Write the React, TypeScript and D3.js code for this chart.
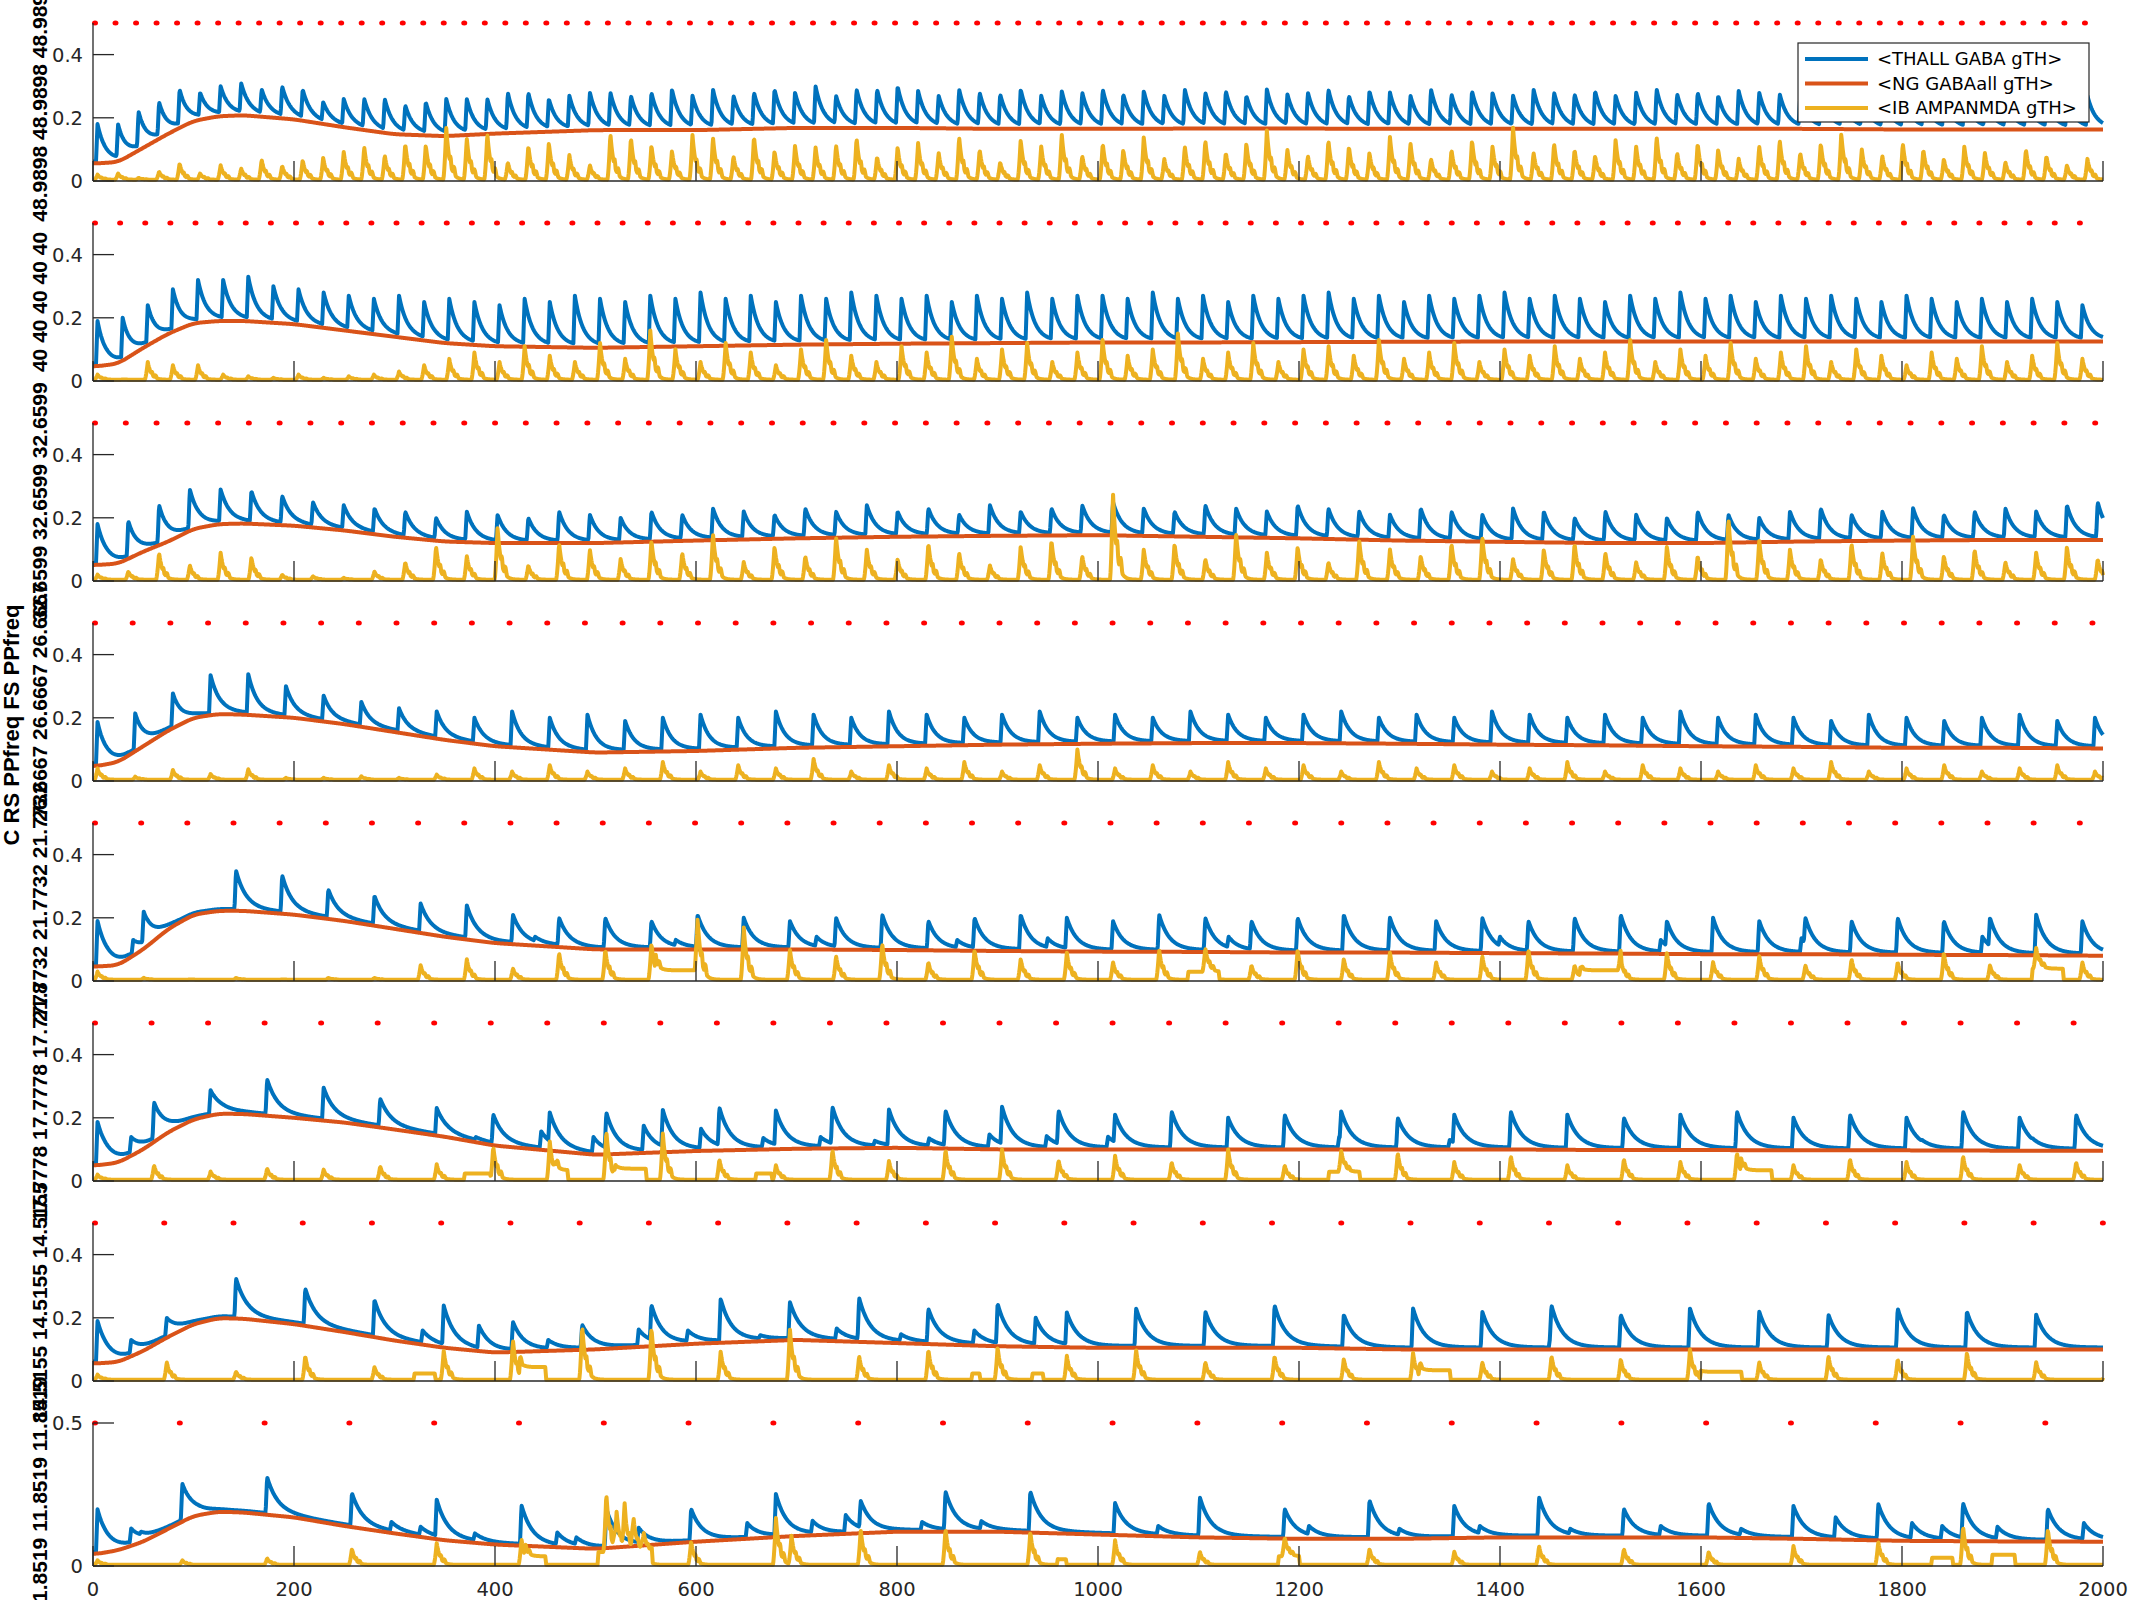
import React, { useMemo } from 'react';
import * as d3 from 'd3';

// drive frequencies, one per panel (Hz)
const FREQS = [48.9898, 40, 32.6599, 26.6667, 21.7732, 17.7778, 14.5155, 11.8519];
const YLABELS = ['48.9898', '40', '32.6599', '26.6667', '21.7732', '17.7778', '14.5155', '11.8519'];
const YLABEL_REPEATS = [3, 5, 3, 3, 3, 3, 3, 3];
const SIDE_LABEL = 'C RS PPfreq FS PPfreq';
const LEGEND = ['<THALL GABA gTH>', '<NG GABAall gTH>', '<IB AMPANMDA gTH>'];
const X_TICKS = [0, 200, 400, 600, 800, 1000, 1200, 1400, 1600, 1800, 2000];
// decay time of the blue conductance per panel (ms)
const BLUE_TAU = [8, 8, 9, 9, 10, 11, 11, 11];

// NG GABAall (orange) read at these times
const ORANGE_T = [0, 25, 50, 75, 100, 125, 150, 200, 250, 300, 350, 400, 500, 600, 700, 800, 900, 1000, 1100, 1200, 1300, 1400, 1500, 1600, 1700, 1800, 1900, 2000];
const ORANGE_1 = [0.055, 0.06, 0.105, 0.15, 0.19, 0.205, 0.208, 0.195, 0.17, 0.148, 0.142, 0.15, 0.161, 0.161, 0.168, 0.168, 0.165, 0.165, 0.166, 0.166, 0.165, 0.165, 0.165, 0.165, 0.165, 0.163, 0.163, 0.163];
const ORANGE_2 = [0.045, 0.055, 0.105, 0.15, 0.183, 0.19, 0.19, 0.18, 0.16, 0.14, 0.12, 0.11, 0.105, 0.11, 0.115, 0.118, 0.12, 0.122, 0.122, 0.123, 0.124, 0.125, 0.125, 0.125, 0.125, 0.125, 0.125, 0.125];
const ORANGE_3 = [0.05, 0.055, 0.093, 0.125, 0.165, 0.18, 0.182, 0.175, 0.16, 0.14, 0.125, 0.12, 0.12, 0.128, 0.135, 0.14, 0.143, 0.145, 0.14, 0.135, 0.128, 0.124, 0.12, 0.12, 0.125, 0.128, 0.13, 0.13];
const ORANGE_4 = [0.045, 0.06, 0.11, 0.16, 0.2, 0.212, 0.21, 0.2, 0.18, 0.155, 0.13, 0.11, 0.09, 0.095, 0.105, 0.11, 0.115, 0.118, 0.12, 0.12, 0.118, 0.115, 0.113, 0.11, 0.108, 0.105, 0.105, 0.103];
const ORANGE_5 = [0.045, 0.05, 0.1, 0.165, 0.21, 0.222, 0.222, 0.21, 0.19, 0.165, 0.14, 0.12, 0.1, 0.1, 0.1, 0.098, 0.095, 0.093, 0.092, 0.09, 0.09, 0.088, 0.087, 0.085, 0.085, 0.083, 0.082, 0.08];
const ORANGE_6 = [0.048, 0.058, 0.1, 0.155, 0.195, 0.213, 0.212, 0.2, 0.185, 0.163, 0.14, 0.112, 0.083, 0.095, 0.102, 0.105, 0.1, 0.1, 0.1, 0.1, 0.1, 0.1, 0.098, 0.098, 0.097, 0.097, 0.096, 0.096];
const ORANGE_7 = [0.055, 0.06, 0.095, 0.14, 0.18, 0.199, 0.197, 0.18, 0.155, 0.128, 0.105, 0.09, 0.1, 0.118, 0.13, 0.12, 0.11, 0.105, 0.105, 0.105, 0.1, 0.1, 0.1, 0.1, 0.1, 0.1, 0.1, 0.1];
const ORANGE_8 = [0.04, 0.055, 0.085, 0.13, 0.175, 0.19, 0.187, 0.17, 0.14, 0.114, 0.09, 0.075, 0.06, 0.085, 0.105, 0.12, 0.12, 0.11, 0.1, 0.095, 0.095, 0.1, 0.1, 0.1, 0.095, 0.088, 0.086, 0.085];

// THALL GABA (blue) peak after each drive pulse
const BLUE_1 = [0.18, 0.18, 0.22, 0.25, 0.29, 0.28, 0.30, 0.31, 0.29, 0.30, 0.29, 0.25, 0.26, 0.26, 0.26,
  0.24, 0.25, 0.26, 0.26, 0.26, 0.28, 0.28, 0.26, 0.27, 0.28, 0.28, 0.27, 0.28, 0.29, 0.27, 0.29, 0.27, 0.28, 0.29, 0.28, 0.30, 0.27, 0.29, 0.29, 0.30,
  0.285, 0.27, 0.29, 0.28, 0.275, 0.29, 0.27, 0.285, 0.28, 0.29, 0.275, 0.285, 0.27, 0.29, 0.28, 0.285, 0.27, 0.29, 0.275, 0.28,
  0.29, 0.27, 0.285, 0.28, 0.27, 0.29, 0.275, 0.285, 0.28, 0.27, 0.29, 0.28, 0.275, 0.285, 0.27, 0.28, 0.29, 0.275, 0.28, 0.27,
  0.285, 0.28, 0.275, 0.27, 0.285, 0.28, 0.27, 0.275, 0.28, 0.27, 0.265, 0.275, 0.27, 0.265, 0.27, 0.26, 0.265, 0.27];
const BLUE_2 = [0.19, 0.2, 0.24, 0.29, 0.32, 0.32, 0.33, 0.3, 0.29, 0.28,
  0.27, 0.26, 0.27, 0.25, 0.26, 0.25, 0.24, 0.26, 0.25, 0.27, 0.26, 0.25, 0.27, 0.26, 0.28, 0.26, 0.27, 0.25, 0.27, 0.26,
  0.28, 0.27, 0.26, 0.27, 0.25, 0.27, 0.26, 0.28, 0.26, 0.27, 0.27, 0.26, 0.28, 0.26, 0.27, 0.25, 0.27, 0.26, 0.27, 0.28,
  0.26, 0.27, 0.25, 0.27, 0.26, 0.27, 0.28, 0.26, 0.27, 0.26, 0.25, 0.27, 0.26, 0.28, 0.26, 0.27, 0.25, 0.27, 0.26, 0.27,
  0.26, 0.25, 0.27, 0.26, 0.25, 0.26, 0.25, 0.26, 0.25, 0.24];
const BLUE_3 = [0.18, 0.19, 0.24, 0.29, 0.29, 0.285, 0.27, 0.25, 0.24, 0.23,
  0.22, 0.2, 0.22, 0.21, 0.2, 0.22, 0.21, 0.2, 0.22, 0.21, 0.23, 0.22, 0.21, 0.23, 0.22, 0.24, 0.22, 0.23, 0.21, 0.24,
  0.22, 0.23, 0.24, 0.25, 0.23, 0.22, 0.24, 0.23, 0.22, 0.24, 0.23, 0.22, 0.21, 0.23, 0.22, 0.21, 0.23, 0.22, 0.2, 0.22,
  0.21, 0.2, 0.22, 0.21, 0.2, 0.22, 0.23, 0.21, 0.22, 0.23, 0.21, 0.22, 0.23, 0.22, 0.24, 0.25];
const BLUE_4 = [0.187, 0.214, 0.277, 0.335, 0.338, 0.3, 0.27, 0.25, 0.23, 0.22,
  0.2, 0.22, 0.2, 0.21, 0.19, 0.2, 0.21, 0.2, 0.22, 0.21, 0.2, 0.22, 0.21, 0.2, 0.21, 0.22, 0.2, 0.21, 0.2, 0.22,
  0.21, 0.2, 0.21, 0.22, 0.2, 0.21, 0.2, 0.22, 0.21, 0.2, 0.21, 0.2, 0.22, 0.2, 0.21, 0.2, 0.19, 0.21, 0.2, 0.19,
  0.2, 0.21, 0.19, 0.2];
const BLUE_5 = [0.19, 0.22, 0.21, 0.35, 0.335, 0.29, 0.27, 0.245, 0.24, 0.21,
  0.2, 0.2, 0.19, 0.21, 0.2, 0.19, 0.2, 0.21, 0.19, 0.2, 0.21, 0.2, 0.19, 0.21, 0.2, 0.19, 0.2, 0.21, 0.2, 0.19,
  0.2, 0.19, 0.2, 0.21, 0.19, 0.2, 0.19, 0.2, 0.19, 0.2, 0.19, 0.2, 0.21, 0.19];
const BLUE_6 = [0.187, 0.249, 0.287, 0.322, 0.295, 0.261, 0.231, 0.211, 0.217, 0.217, 0.225, 0.233, 0.223, 0.235, 0.226, 0.223, 0.235, 0.223,
  0.21, 0.22, 0.2, 0.21, 0.22, 0.2, 0.21, 0.22, 0.21, 0.2, 0.21, 0.22, 0.2, 0.21, 0.2, 0.22, 0.2, 0.21];
const BLUE_7 = [0.19, 0.2, 0.325, 0.293, 0.257, 0.239, 0.187, 0.178, 0.241, 0.26, 0.25, 0.263, 0.229, 0.245, 0.217,
  0.23, 0.22, 0.24, 0.21, 0.23, 0.22, 0.24, 0.21, 0.23, 0.22, 0.21, 0.23, 0.22, 0.21, 0.22];
const BLUE_8 = [0.198, 0.288, 0.311, 0.255, 0.232, 0.212, 0.2, 0.2, 0.252, 0.228, 0.261, 0.261,
  0.22, 0.24, 0.2, 0.23, 0.21, 0.24, 0.2, 0.22, 0.21, 0.217, 0.22, 0.2];

// smaller blue bumps between pulses: times (ms) and peaks
const EXTRA_T_5 = [40, 440, 580, 720, 860, 950, 1130, 1290, 1400, 1560, 1700, 1880];
const EXTRA_V_5 = [0.13, 0.14, 0.13, 0.14, 0.13, 0.135, 0.14, 0.13, 0.14, 0.13, 0.135, 0.14];
const EXTRA_T_6 = [38, 330, 381, 446, 498, 548, 605, 667, 724, 778, 832, 892, 949, 1010, 1130, 1240, 1350, 1470, 1590, 1700, 1820, 1930];
const EXTRA_V_6 = [0.139, 0.145, 0.139, 0.157, 0.139, 0.175, 0.165, 0.136, 0.139, 0.127, 0.135, 0.147, 0.142, 0.14, 0.135, 0.14, 0.13, 0.14, 0.135, 0.14, 0.13, 0.135];
const EXTRA_T_7 = [38, 198, 328, 384, 453, 543, 592, 664, 740, 804, 877, 938, 1040, 1180, 1320, 1450, 1600, 1730, 1870];
const EXTRA_V_7 = [0.13, 0.18, 0.16, 0.175, 0.13, 0.163, 0.16, 0.145, 0.166, 0.148, 0.16, 0.2, 0.15, 0.14, 0.15, 0.14, 0.15, 0.14, 0.14];
const EXTRA_T_8 = [38, 48, 297, 326, 380, 462, 481, 543, 651, 716, 749, 825, 884, 1060, 1120, 1210, 1300, 1380, 1470, 1560, 1640, 1734, 1810, 1840, 1895, 1981];
const EXTRA_V_8 = [0.131, 0.12, 0.154, 0.137, 0.114, 0.117, 0.1, 0.134, 0.15, 0.158, 0.178, 0.154, 0.157, 0.14, 0.13, 0.14, 0.13, 0.14, 0.13, 0.14, 0.13, 0.17, 0.15, 0.14, 0.137, 0.15];

// IB AMPANMDA (yellow) burst height after each drive pulse
const YELLOW_1 = [0.02, 0.024, 0.01, 0.03, 0.056, 0.024, 0.05, 0.04, 0.068, 0.048, 0.066, 0.074, 0.093, 0.108, 0.082,
  0.119, 0.114, 0.168, 0.135, 0.15, 0.059, 0.112, 0.121, 0.082, 0.05, 0.15, 0.138, 0.114, 0.095, 0.147, 0.138, 0.079, 0.142, 0.095, 0.112, 0.108, 0.114, 0.137, 0.077, 0.108,
  0.12, 0.09, 0.14, 0.1, 0.06, 0.13, 0.11, 0.15, 0.08, 0.12, 0.1, 0.14, 0.07, 0.11, 0.13, 0.09, 0.12, 0.16, 0.1, 0.08,
  0.13, 0.11, 0.09, 0.14, 0.12, 0.07, 0.1, 0.13, 0.11, 0.17, 0.09, 0.12, 0.1, 0.08, 0.13, 0.11, 0.14, 0.09, 0.12, 0.1,
  0.07, 0.11, 0.13, 0.09, 0.12, 0.15, 0.1, 0.08, 0.12, 0.1, 0.07, 0.11, 0.09, 0.06, 0.1, 0.08, 0.05, 0.07];
const YELLOW_2 = [0.02, 0.005, 0.06, 0.05, 0.05, 0.02, 0.015, 0.01, 0.02, 0.01,
  0.015, 0.02, 0.03, 0.05, 0.07, 0.09, 0.06, 0.11, 0.08, 0.06, 0.12, 0.07, 0.16, 0.1, 0.06, 0.12, 0.09, 0.05, 0.1, 0.13,
  0.08, 0.06, 0.11, 0.09, 0.14, 0.07, 0.1, 0.12, 0.06, 0.09, 0.13, 0.08, 0.1, 0.15, 0.07, 0.09, 0.12, 0.06, 0.1, 0.11,
  0.08, 0.13, 0.07, 0.09, 0.12, 0.06, 0.1, 0.08, 0.11, 0.07, 0.09, 0.13, 0.06, 0.1, 0.08, 0.12, 0.07, 0.09, 0.11, 0.06,
  0.1, 0.08, 0.05, 0.09, 0.07, 0.11, 0.06, 0.08, 0.12, 0.07];
const YELLOW_3 = [0.02, 0.03, 0.09, 0.05, 0.09, 0.075, 0.02, 0.015, 0.01, 0.03,
  0.06, 0.11, 0.08, 0.17, 0.05, 0.12, 0.1, 0.07, 0.13, 0.09, 0.15, 0.06, 0.11, 0.08, 0.14, 0.1, 0.07, 0.12, 0.09, 0.05,
  0.11, 0.13, 0.08, 0.28, 0.1, 0.12, 0.07, 0.15, 0.09, 0.11, 0.06, 0.13, 0.1, 0.08, 0.12, 0.14, 0.07, 0.1, 0.12, 0.09,
  0.06, 0.11, 0.08, 0.2, 0.13, 0.1, 0.07, 0.12, 0.09, 0.14, 0.08, 0.1, 0.06, 0.09, 0.11, 0.07];
const YELLOW_4 = [0.04, 0.014, 0.035, 0.022, 0.037, 0.01, 0.01, 0.015, 0.01, 0.02,
  0.04, 0.03, 0.05, 0.03, 0.04, 0.06, 0.03, 0.05, 0.04, 0.07, 0.03, 0.05, 0.04, 0.06, 0.03, 0.05, 0.1, 0.04, 0.05, 0.03,
  0.06, 0.04, 0.05, 0.03, 0.06, 0.04, 0.05, 0.03, 0.04, 0.06, 0.03, 0.05, 0.04, 0.03, 0.05, 0.04, 0.06, 0.03, 0.04, 0.05,
  0.03, 0.04, 0.05, 0.03];
const YELLOW_5 = [0.03, 0.01, 0.005, 0.01, 0.005, 0.01, 0.01, 0.05, 0.07, 0.04,
  0.09, 0.1, 0.12, 0.2, 0.17, 0.1, 0.08, 0.12, 0.06, 0.1, 0.07, 0.09, 0.06, 0.1, 0.08, 0.05, 0.1, 0.07, 0.09, 0.06,
  0.08, 0.1, 0.05, 0.07, 0.09, 0.06, 0.08, 0.05, 0.07, 0.06, 0.09, 0.05, 0.07, 0.06];
const YELLOW_6 = [0.02, 0.05, 0.03, 0.04, 0.036, 0.047, 0.053, 0.11, 0.125, 0.16, 0.15, 0.069, 0.05, 0.1, 0.063, 0.1, 0.1, 0.066,
  0.08, 0.06, 0.1, 0.05, 0.07, 0.09, 0.06, 0.08, 0.05, 0.07, 0.06, 0.09, 0.05, 0.07, 0.06, 0.08, 0.05, 0.06];
const YELLOW_7 = [0.02, 0.06, 0.03, 0.08, 0.045, 0.096, 0.13, 0.175, 0.17, 0.094, 0.166, 0.08, 0.1, 0.108, 0.08,
  0.1, 0.06, 0.08, 0.07, 0.09, 0.06, 0.08, 0.07, 0.1, 0.06, 0.08, 0.07, 0.09, 0.06, 0.07];
const YELLOW_8 = [0.02, 0.02, 0.027, 0.06, 0.08, 0.094, 0.21, 0.087, 0.168, 0.127, 0.131, 0.12,
  0.09, 0.05, 0.07, 0.06, 0.05, 0.07, 0.06, 0.05, 0.07, 0.085, 0.14, 0.13];

// extra yellow spikes inside noisy bursts: times (ms) and heights
const YEXTRA_T_8 = [521, 529, 538, 548, 695];
const YEXTRA_V_8 = [0.15, 0.16, 0.12, 0.08, 0.12];

// low yellow plateaus: start (ms), end (ms), level
const BLOCKS_5 = [[560, 600, 0.03], [1090, 1120, 0.025], [1480, 1520, 0.03], [1930, 1960, 0.035]];
const BLOCKS_6 = [[370, 395, 0.02], [460, 472, 0.03], [520, 550, 0.035], [660, 675, 0.02], [1230, 1260, 0.025], [1640, 1670, 0.03]];
const BLOCKS_7 = [[320, 340, 0.02], [425, 450, 0.04], [875, 882, 0.02], [935, 945, 0.02], [1320, 1350, 0.03], [1600, 1640, 0.025]];
const BLOCKS_8 = [[430, 450, 0.03], [503, 556, 0.045], [960, 968, 0.02], [1180, 1200, 0.03], [1830, 1850, 0.025], [1890, 1912, 0.035]];

const COLORS = { blue: '#0072BD', orange: '#D95319', yellow: '#EDB120' };

const NONE: number[] = [];
const PANELS = [
  { orange: ORANGE_1, blue: BLUE_1, yellow: YELLOW_1, extraT: NONE, extraV: NONE, yT: NONE, yV: NONE, blocks: [] as number[][] },
  { orange: ORANGE_2, blue: BLUE_2, yellow: YELLOW_2, extraT: NONE, extraV: NONE, yT: NONE, yV: NONE, blocks: [] },
  { orange: ORANGE_3, blue: BLUE_3, yellow: YELLOW_3, extraT: NONE, extraV: NONE, yT: NONE, yV: NONE, blocks: [] },
  { orange: ORANGE_4, blue: BLUE_4, yellow: YELLOW_4, extraT: NONE, extraV: NONE, yT: NONE, yV: NONE, blocks: [] },
  { orange: ORANGE_5, blue: BLUE_5, yellow: YELLOW_5, extraT: EXTRA_T_5, extraV: EXTRA_V_5, yT: NONE, yV: NONE, blocks: BLOCKS_5 },
  { orange: ORANGE_6, blue: BLUE_6, yellow: YELLOW_6, extraT: EXTRA_T_6, extraV: EXTRA_V_6, yT: NONE, yV: NONE, blocks: BLOCKS_6 },
  { orange: ORANGE_7, blue: BLUE_7, yellow: YELLOW_7, extraT: EXTRA_T_7, extraV: EXTRA_V_7, yT: NONE, yV: NONE, blocks: BLOCKS_7 },
  { orange: ORANGE_8, blue: BLUE_8, yellow: YELLOW_8, extraT: EXTRA_T_8, extraV: EXTRA_V_8, yT: YEXTRA_T_8, yV: YEXTRA_V_8, blocks: BLOCKS_8 },
];

const W = 2133;
const H = 1600;
const DT = 0.5;
const TIME = d3.range(0, 2000 + DT / 2, DT);

// synaptic shapes: fast rise, exponential decay
const blueKernel = (tau: number) => (s: number) => (s < 0 ? 0 : s < 1.5 ? s / 1.5 : Math.exp(-(s - 1.5) / tau));
const bump = (s: number, c: number, w: number) => {
  const u = (s - c) / w;
  return Math.exp(-u * u);
};
// AMPA/NMDA burst: a sharp main peak with a couple of trailing sub-peaks
const yellowKernel = (s: number) => {
  if (s < 0) return 0;
  const main = s < 3 ? Math.pow(s / 3, 1.5) : Math.exp(-(s - 3) / 3.5);
  return Math.max(main, 0.45 * bump(s, 7, 1.5), 0.25 * bump(s, 10.5, 1.6));
};

function addEvent(arr: number[], t0: number, amp: number, kern: (s: number) => number, span: number) {
  const i0 = Math.max(0, Math.ceil(t0 / DT));
  for (let i = i0; i < TIME.length && TIME[i] < t0 + span; i++) arr[i] += amp * kern(TIME[i] - t0);
}

// running mean, to round off the corners between read orange values
function smooth(vals: number[], half: number) {
  return vals.map((_, i) => d3.mean(vals.slice(Math.max(0, i - half), Math.min(vals.length, i + half + 1))) as number);
}

function buildSeries(p: number) {
  const panel = PANELS[p];
  const period = 1000 / FREQS[p];
  const pulses = d3.range(2, 2000, period);
  const oScale = d3.scaleLinear().domain(ORANGE_T).range(panel.orange).clamp(true);
  const orange = smooth(TIME.map((t) => oScale(t)), 16);
  const blue = orange.map((v) => v + 0.006);

  // blue events in time order, each one lifted to its read peak
  const events: [number, number][] = [];
  panel.blue.forEach((peak, k) => {
    if (pulses[k] !== undefined) events.push([pulses[k] + 1, peak]);
  });
  panel.extraT.forEach((t, k) => events.push([t - 1.5, panel.extraV[k]]));
  events.sort((a, b) => a[0] - b[0]);
  const bk = blueKernel(BLUE_TAU[p]);
  events.forEach(([t0, peak]) => {
    const ip = Math.min(TIME.length - 1, Math.round((t0 + 1.5) / DT));
    addEvent(blue, t0, Math.max(0, peak - blue[ip]), bk, 150);
  });

  const yellow = TIME.map(() => 0.004);
  panel.yellow.forEach((h, k) => {
    if (pulses[k] !== undefined) addEvent(yellow, pulses[k] - 0.5, h - 0.004, yellowKernel, 40);
  });
  panel.yT.forEach((t, k) => addEvent(yellow, t - 3, panel.yV[k] - 0.02, yellowKernel, 40));
  panel.blocks.forEach(([a, b, h]) => {
    TIME.forEach((t, i) => {
      if (t >= a - 1 && t <= b + 1) yellow[i] += h * Math.min(1, t - a + 1, b + 1 - t);
    });
  });
  const dots = pulses.filter((t) => t <= 2000);
  return { orange, blue, yellow, dots };
}

const App = () => {
  const x = d3.scaleLinear().domain([0, 2000]).range([93, 2103]);
  const panels = useMemo(() => PANELS.map((_, p) => buildSeries(p)), []);

  const axisColor = '#262626';
  const tickFont = 'DejaVu Sans, sans-serif';

  return (
    <svg width={W} height={H} style={{ position: 'absolute', left: 0, top: 0, background: '#fff' }}>
      <rect width={W} height={H} fill="#fff" />
      {panels.map((s, p) => {
        const last = p === panels.length - 1;
        const top = last ? 1423 : 23 + 200 * p;
        const bottom = last ? 1566 : 181 + 200 * p;
        const y = d3.scaleLinear().domain([0, 0.5]).range([bottom, top]);
        const line = d3.line<number>().x((_, i) => x(TIME[i])).y((v) => y(v));
        const yTicks = last ? [0, 0.5] : [0, 0.2, 0.4];
        const label = d3.range(YLABEL_REPEATS[p]).map(() => YLABELS[p]).join(' ');
        const cy = (top + bottom) / 2;
        return (
          <g key={p}>
            <path d={line(s.blue) || ''} fill="none" stroke={COLORS.blue} strokeWidth={4} strokeLinejoin="round" />
            <path d={line(s.orange) || ''} fill="none" stroke={COLORS.orange} strokeWidth={4} strokeLinejoin="round" />
            <path d={line(s.yellow) || ''} fill="none" stroke={COLORS.yellow} strokeWidth={4} strokeLinejoin="round" />
            {s.dots.map((t, i) => (
              <ellipse key={i} cx={x(t)} cy={y(0.5)} rx={3} ry={2.5} fill="#ff0000" />
            ))}
            <line x1={x(0)} x2={x(0)} y1={y(0)} y2={y(0.5)} stroke={axisColor} strokeWidth={1.3} />
            <line x1={x(0)} x2={x(2000)} y1={y(0)} y2={y(0)} stroke={axisColor} strokeWidth={1.3} />
            {yTicks.map((v) => (
              <g key={v}>
                <line x1={x(0)} x2={x(0) + 21} y1={y(v)} y2={y(v)} stroke={axisColor} strokeWidth={1.3} />
                <text x={83} y={y(v)} dy="0.36em" textAnchor="end" fontFamily={tickFont} fontSize={19.5} fill={axisColor}>
                  {v === 0 ? '0' : String(v)}
                </text>
              </g>
            ))}
            {X_TICKS.map((t) => (
              <line key={t} x1={x(t)} x2={x(t)} y1={y(0)} y2={y(0) - 20} stroke={axisColor} strokeWidth={1.3} />
            ))}
            {last &&
              X_TICKS.map((t) => (
                <text key={t} x={x(t)} y={y(0) + 30} textAnchor="middle" fontFamily={tickFont} fontSize={19.5} fill={axisColor}>
                  {t}
                </text>
              ))}
            <text
              transform={`translate(47,${cy}) rotate(-90)`}
              textAnchor="middle"
              fontFamily="Liberation Sans, Arial, sans-serif"
              fontWeight="bold"
              fontSize={21}
              fill="#000"
            >
              {label}
            </text>
          </g>
        );
      })}
      <text
        transform="translate(18.5,725) rotate(-90)"
        textAnchor="middle"
        fontFamily="Liberation Sans, Arial, sans-serif"
        fontWeight="bold"
        fontSize={22}
        fill="#000"
      >
        {SIDE_LABEL}
      </text>
      <g>
        <rect x={1798} y={43} width={291} height={79} fill="#fff" stroke={axisColor} strokeWidth={1.2} />
        {LEGEND.map((name, i) => {
          const ly = 59 + i * 24.5;
          const c = [COLORS.blue, COLORS.orange, COLORS.yellow][i];
          return (
            <g key={name}>
              <line x1={1805} x2={1868} y1={ly} y2={ly} stroke={c} strokeWidth={4} />
              <text x={1877} y={ly} dy="0.36em" fontFamily={tickFont} fontSize={18} fill="#000">
                {name}
              </text>
            </g>
          );
        })}
      </g>
    </svg>
  );
};

export default App;
